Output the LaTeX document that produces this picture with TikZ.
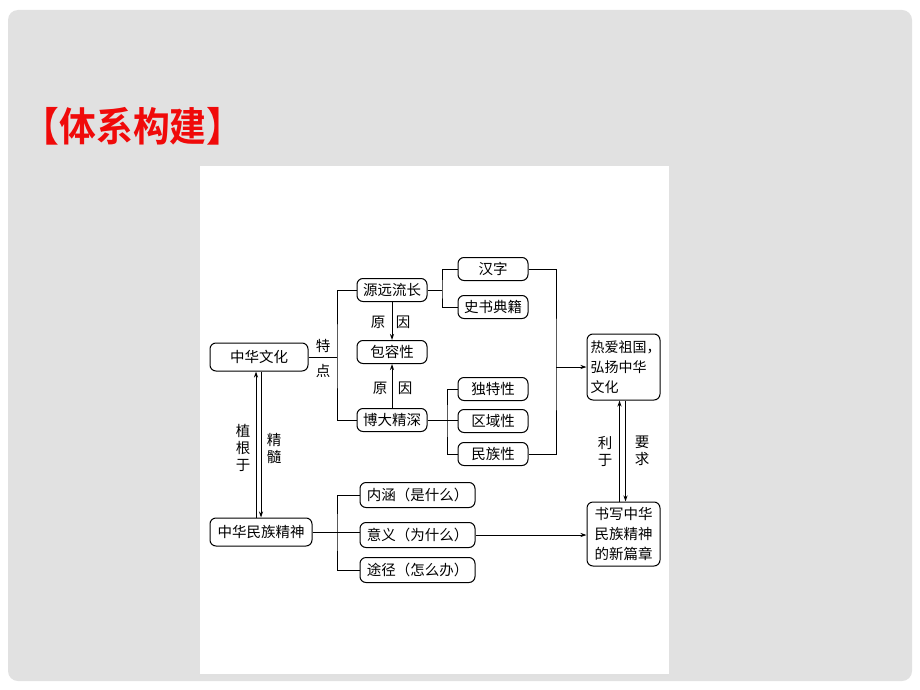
\documentclass[tikz,border=0pt]{standalone}
\usepackage{fontspec}
\newfontfamily\cjk{Noto Sans CJK SC}
\newfontfamily\cjkb{Noto Sans CJK SC Bold}
\usetikzlibrary{arrows.meta}
\definecolor{bggray}{RGB}{225,225,225}
\definecolor{titlered}{RGB}{240,10,10}
\begin{document}
\begin{tikzpicture}[x=1pt,y=-1pt,
  box/.style={draw=black,line width=1pt,rounded corners=6pt,inner sep=0pt,
    font=\cjk\fontsize{14.5}{17}\selectfont,align=center},
  ln/.style={draw=black,line width=1pt},
  arr/.style={ln,-{Stealth[length=6pt,width=4pt]}},
  lbl/.style={font=\cjk\fontsize{14.5}{17}\selectfont,inner sep=0pt,align=center}]
\useasboundingbox (0,0) rectangle (920,690);
\fill[white] (0,0) rectangle (920,690);
\fill[bggray,rounded corners=10pt] (8,10) rectangle (912,681);
\fill[black!12] (200,668) rectangle (669,677);
\fill[white] (200,166) rectangle (669,674);
\node[font=\cjkb\fontsize{40}{46}\selectfont,text=titlered,inner sep=0pt,xscale=0.92] (title) at (133,126) {【体系构建】};

% nodes
\node[box,minimum width=98pt,minimum height=28pt] (zhwh) at (259,357) {中华文化};
\node[box,minimum width=70pt,minimum height=23pt] (yylc) at (392,290) {源远流长};
\node[box,minimum width=70pt,minimum height=23pt] (brx) at (392,352) {包容性};
\node[box,minimum width=70pt,minimum height=23pt] (bdjs) at (392,420) {博大精深};
\node[box,minimum width=70pt,minimum height=23pt] (hz) at (493,269) {汉字};
\node[box,minimum width=70pt,minimum height=23pt] (ssdj) at (493,307) {史书典籍};
\node[box,minimum width=70pt,minimum height=23pt] (dtx) at (493,389) {独特性};
\node[box,minimum width=70pt,minimum height=23pt] (qyx) at (493,421) {区域性};
\node[box,minimum width=70pt,minimum height=23pt] (mzx) at (493,454) {民族性};
\node[box,minimum width=73pt,minimum height=66pt,align=left,text width=66pt,
      font=\cjk\fontsize{14}{20}\selectfont] (razg) at (623.5,367) {热爱祖国，\\弘扬中华\\文化};
\node[box,minimum width=73pt,minimum height=64pt,font=\cjk\fontsize{14.5}{20}\selectfont] (sxzh) at (623.5,534) {书写中华\\民族精神\\的新篇章};
\node[box,minimum width=102pt,minimum height=28pt] (zhmz) at (261,532) {中华民族精神};
\node[box,minimum width=115pt,minimum height=25pt] (nh) at (417.5,495) {内涵（是什么）};
\node[box,minimum width=115pt,minimum height=25pt] (yy) at (417.5,535) {意义（为什么）};
\node[box,minimum width=115pt,minimum height=25pt] (tj) at (417.5,570) {途径（怎么办）};

% branch points
\coordinate (b1) at (337,357);
\coordinate (b2) at (442,290);
\coordinate (b3) at (447,420);
\coordinate (b4) at (556,367);
\coordinate (b5) at (337,532);

% 中华文化 -> 源远流长 / 博大精深
\draw[ln] (zhwh.east) -- (b1);
\draw[ln] (yylc.west) -| (b1) |- (bdjs.west);
\node[lbl] (te) at (323,346) {特};
\node[lbl] (dian) at (323,371) {点};

% 源远流长 -> 包容性, 博大精深 -> 包容性
\draw[arr] (yylc.south) -- (brx.north);
\node[lbl] (y1) at (378,322) {原};
\node[lbl] (y2) at (403,322) {因};
\draw[arr] (bdjs.north) -- (brx.south);
\node[lbl] (y3) at (380,388) {原};
\node[lbl] (y4) at (405,388) {因};

% 源远流长 -> 汉字/史书典籍
\draw[ln] (yylc.east) -- (b2);
\draw[ln] (hz.west) -| (b2) |- (ssdj.west);
% 博大精深 -> 独特性/区域性/民族性
\draw[ln] (bdjs.east) -- (bdjs.east -| qyx.west);
\draw[ln] (dtx.west) -| (b3) |- (mzx.west);

% 汉字...民族性 -> 热爱祖国
\draw[ln] (hz.east) -| (b4) |- (mzx.east);
\draw[arr] (b4) -- (b4 -| razg.west);

% 中华文化 <-> 中华民族精神
\draw[arr] ([xshift=-5pt]zhmz.north) -- ([xshift=-5pt]zhmz.north |- zhwh.south);
\draw[arr] ([xshift=2pt]zhwh.south) -- ([xshift=2pt]zhwh.south |- zhmz.north);
\node[lbl,text width=15pt] (zgy) at (243,448) {植\\根\\于};
\node[lbl,text width=15pt] (js) at (274,448) {精\\髓};

% 中华民族精神 -> 内涵/意义/途径
\draw[ln] (zhmz.east) -- (b5);
\draw[ln] (nh.west) -| (b5) |- (tj.west);
\draw[ln] (b5) -- (b5 -| yy.west);
\draw[arr] (yy.east) -- (yy.east -| sxzh.west);

% 热爱祖国 <-> 书写中华
\draw[arr] ([xshift=-4pt]sxzh.north) -- ([xshift=-4pt]sxzh.north |- razg.south);
\draw[arr] ([xshift=2pt]razg.south) -- ([xshift=2pt]razg.south |- sxzh.north);
\node[lbl,text width=15pt] (ly) at (605,451) {利\\于};
\node[lbl,text width=15pt] (yq) at (642,451) {要\\求};
\end{tikzpicture}
\end{document}
